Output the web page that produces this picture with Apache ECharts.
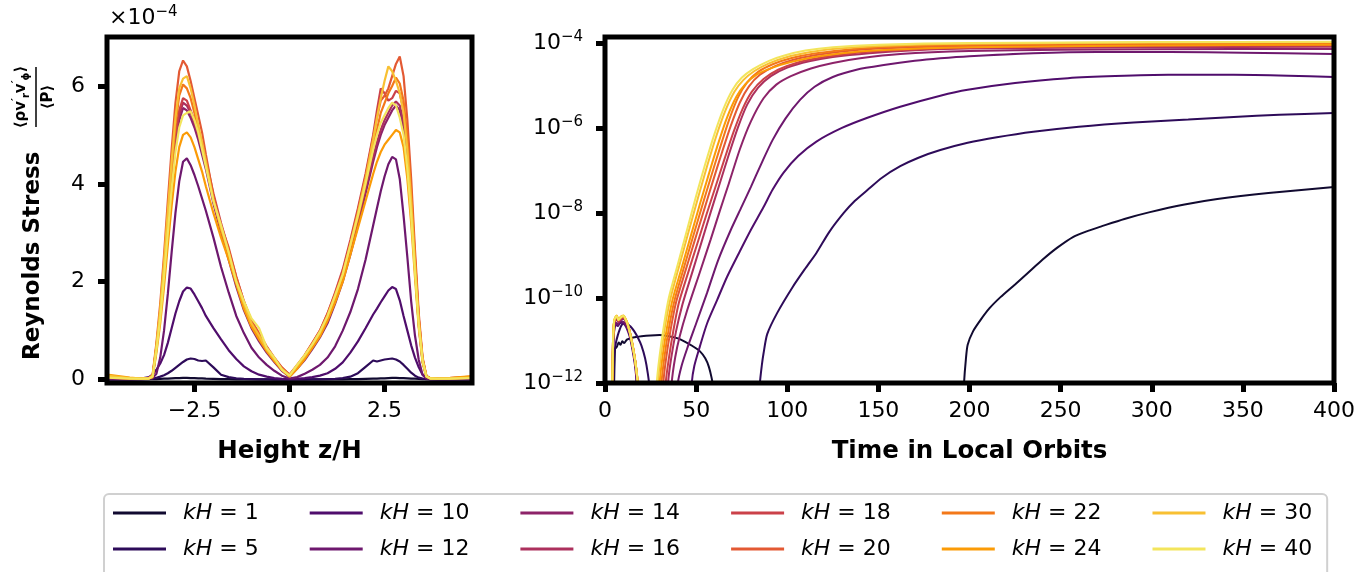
<!DOCTYPE html>
<html>
<head>
<meta charset="utf-8">
<script src="https://cdn.jsdelivr.net/npm/echarts@6.0.0/dist/echarts.min.js"></script>
<style>
  html, body { margin: 0; padding: 0; background: #ffffff; }
  #chart { width: 1372px; height: 572px; }
</style>
</head>
<body>
<div id="chart"></div>
<script>
// Wavenumbers of the runs and their line colours (inferno-like ramp)
const kHValues = [1, 5, 10, 12, 14, 16, 18, 20, 22, 24, 30, 40];
const lineColors = ['#110a30', '#2d0b59', '#4f0d6c', '#6e186e', '#8d2369', '#ac305d',
                    '#cb4149', '#e35933', '#f37819', '#fb9b06', '#f8c032', '#f3e55c'];

// Vertical grid z/H for the stress profiles
const heightGrid = [-4.8, -4.2, -3.9, -3.7, -3.6, -3.5, -3.4, -3.3, -3.2, -3.1, -3.0, -2.9, -2.8, -2.7, -2.6,
  -2.5, -2.4, -2.3, -2.2, -2.0, -1.8, -1.6, -1.4, -1.2, -1.0, -0.8, -0.6, -0.4, -0.2, 0,
  0.2, 0.4, 0.6, 0.8, 1.0, 1.2, 1.4, 1.6, 1.8, 2.0, 2.2, 2.3, 2.4, 2.5, 2.6, 2.7, 2.8, 2.9,
  3.0, 3.1, 3.2, 3.3, 3.4, 3.5, 3.6, 3.7, 3.9, 4.2, 4.8];

// Normalised Reynolds stress profiles, in units of 1e-4
const profileKH1 = [0.01, 0.01, 0.01, 0.01, 0.01, 0.01, 0.015, 0.02, 0.02, 0.025, 0.03, 0.03, 0.035, 0.035, 0.03,
  0.03, 0.025, 0.025, 0.02, 0.015, 0.01, 0.01, 0.005, 0.005, 0.005, 0.005, 0.005, 0.005, 0.005, 0.005,
  0.005, 0.005, 0.005, 0.005, 0.005, 0.005, 0.005, 0.01, 0.01, 0.015, 0.02, 0.02, 0.025, 0.025, 0.03, 0.035, 0.035, 0.03,
  0.03, 0.025, 0.02, 0.02, 0.015, 0.01, 0.01, 0.01, 0.01, 0.01, 0.01];
const profileKH5 = [0, 0, 0.005, 0.01, 0.02, 0.035, 0.06, 0.09, 0.13, 0.18, 0.24, 0.3, 0.36, 0.41, 0.43,
  0.42, 0.39, 0.38, 0.39, 0.25, 0.1, 0.05, 0.025, 0.015, 0.01, 0.005, 0.005, 0, 0, 0,
  0, 0, 0.005, 0.005, 0.01, 0.015, 0.03, 0.06, 0.13, 0.26, 0.39, 0.37, 0.39, 0.41, 0.42, 0.43, 0.41, 0.37,
  0.3, 0.22, 0.14, 0.08, 0.04, 0.02, 0.01, 0.005, 0, 0, 0];
const profileKH10 = [0.01, 0.01, 0.02, 0.05, 0.1, 0.2, 0.33, 0.5, 0.75, 1.05, 1.35, 1.6, 1.8, 1.88, 1.86,
  1.74, 1.6, 1.46, 1.3, 1.05, 0.82, 0.6, 0.42, 0.27, 0.17, 0.1, 0.06, 0.03, 0.015, 0.01,
  0.015, 0.03, 0.05, 0.08, 0.13, 0.22, 0.35, 0.55, 0.78, 1.05, 1.33, 1.45, 1.58, 1.7, 1.82, 1.89, 1.85, 1.62,
  1.3, 1.0, 0.7, 0.45, 0.25, 0.1, 0.03, 0.01, 0.01, 0.01, 0.01];
const profileKH12 = [0.02, 0.01, 0.01, 0.02, 0.03, 0.12, 0.45, 1.0, 1.75, 2.6, 3.4, 4.05, 4.45, 4.52, 4.38,
  4.18, 3.95, 3.7, 3.45, 2.9, 2.3, 1.78, 1.3, 0.95, 0.65, 0.45, 0.3, 0.18, 0.08, 0.02,
  0.05, 0.12, 0.2, 0.3, 0.45, 0.68, 1.0, 1.38, 1.85, 2.45, 3.15, 3.5, 3.85, 4.15, 4.4, 4.55, 4.5, 4.1,
  3.35, 2.5, 1.6, 0.9, 0.4, 0.1, 0.02, 0.01, 0.01, 0.01, 0.02];
const profileKH14 = [0.03, 0.02, 0.02, 0.02, 0.06, 0.62, 1.3, 2.15, 3.1, 4.0, 4.8, 5.3, 5.55, 5.5, 5.35,
  5.15, 4.9, 4.6, 4.3, 3.6, 3.0, 2.45, 1.9, 1.42, 1.05, 0.78, 0.55, 0.36, 0.18, 0.06,
  0.22, 0.4, 0.62, 0.86, 1.15, 1.55, 2.0, 2.55, 3.15, 3.8, 4.45, 4.75, 5.0, 5.2, 5.35, 5.5, 5.6, 5.5,
  5.15, 4.45, 3.45, 2.25, 1.1, 0.36, 0.06, 0.02, 0.02, 0.02, 0.03];
const profileKH16 = [0.04, 0.02, 0.02, 0.02, 0.06, 0.66, 1.35, 2.25, 3.2, 4.1, 4.9, 5.4, 5.66, 5.6, 5.45,
  5.25, 5.0, 4.75, 4.45, 3.7, 3.1, 2.55, 2.0, 1.5, 1.12, 0.85, 0.6, 0.4, 0.2, 0.07,
  0.25, 0.45, 0.68, 0.92, 1.25, 1.65, 2.1, 2.65, 3.25, 3.9, 4.55, 4.85, 5.1, 5.3, 5.45, 5.6, 5.68, 5.6,
  5.25, 4.55, 3.55, 2.3, 1.15, 0.38, 0.06, 0.02, 0.02, 0.02, 0.04];
const profileKH18 = [0.05, 0.02, 0.02, 0.02, 0.07, 0.68, 1.4, 2.3, 3.3, 4.2, 5.0, 5.5, 5.75, 5.7, 5.5,
  5.3, 5.05, 4.8, 4.5, 3.8, 3.2, 2.65, 2.1, 1.6, 1.2, 0.92, 0.66, 0.44, 0.24, 0.1,
  0.28, 0.5, 0.74, 1.0, 1.35, 1.78, 2.25, 2.85, 3.5, 4.2, 5.0, 5.5, 5.95, 5.85, 5.7, 5.75, 5.9, 5.85,
  5.5, 4.8, 3.75, 2.45, 1.25, 0.42, 0.07, 0.03, 0.02, 0.03, 0.05];
const profileKH20 = [0.06, 0.03, 0.02, 0.03, 0.1, 0.75, 1.55, 2.55, 3.65, 4.7, 5.65, 6.3, 6.52, 6.4, 6.1,
  5.75, 5.4, 5.05, 4.6, 3.75, 3.15, 2.7, 2.1, 1.6, 1.2, 0.95, 0.68, 0.45, 0.25, 0.1,
  0.3, 0.5, 0.75, 1.0, 1.35, 1.75, 2.2, 2.8, 3.45, 4.15, 4.95, 5.35, 5.7, 5.8, 5.95, 6.2, 6.45, 6.6,
  6.2, 5.3, 4.1, 2.65, 1.35, 0.45, 0.08, 0.03, 0.02, 0.03, 0.06];
const profileKH22 = [0.05, 0.02, 0.02, 0.02, 0.07, 0.68, 1.42, 2.35, 3.35, 4.3, 5.2, 5.8, 6.03, 5.95, 5.75,
  5.45, 5.1, 4.8, 4.45, 3.7, 3.05, 2.55, 2.05, 1.5, 1.1, 0.85, 0.6, 0.4, 0.2, 0.07,
  0.25, 0.45, 0.68, 0.92, 1.25, 1.65, 2.1, 2.7, 3.3, 4.0, 4.75, 5.1, 5.45, 5.65, 5.85, 6.0, 6.17, 6.05,
  5.7, 4.95, 3.85, 2.5, 1.25, 0.42, 0.07, 0.03, 0.02, 0.02, 0.05];
const profileKH24 = [0.1, 0.04, 0.02, 0.02, 0.05, 0.55, 1.15, 1.9, 2.75, 3.55, 4.25, 4.75, 5.0, 5.05, 4.95,
  4.75, 4.5, 4.25, 3.95, 3.4, 2.9, 2.45, 1.95, 1.45, 1.08, 0.82, 0.58, 0.38, 0.2, 0.06,
  0.22, 0.42, 0.65, 0.88, 1.2, 1.58, 2.0, 2.55, 3.1, 3.65, 4.2, 4.45, 4.65, 4.8, 4.9, 5.0, 5.1, 5.05,
  4.75, 4.1, 3.2, 2.1, 1.05, 0.35, 0.06, 0.02, 0.02, 0.03, 0.07];
const profileKH30 = [0.08, 0.03, 0.02, 0.03, 0.08, 0.7, 1.45, 2.4, 3.45, 4.45, 5.35, 5.95, 6.15, 6.2, 5.95,
  5.6, 5.2, 4.85, 4.45, 3.65, 3.1, 2.6, 2.0, 1.55, 1.15, 0.9, 0.62, 0.42, 0.22, 0.08,
  0.28, 0.48, 0.72, 0.95, 1.3, 1.7, 2.15, 2.75, 3.4, 4.1, 4.9, 5.35, 5.75, 6.1, 6.4, 6.3, 6.1, 5.85,
  5.45, 4.7, 3.65, 2.35, 1.2, 0.4, 0.07, 0.03, 0.02, 0.02, 0.04];
const profileKH40 = [0.04, 0.02, 0.02, 0.02, 0.06, 0.6, 1.25, 2.1, 3.0, 3.9, 4.65, 5.15, 5.4, 5.45, 5.48,
  5.3, 5.05, 4.7, 4.35, 3.65, 3.15, 2.6, 2.0, 1.6, 1.25, 1.05, 0.65, 0.45, 0.2, 0.08,
  0.3, 0.5, 0.72, 0.98, 1.3, 1.72, 2.15, 2.75, 3.35, 4.0, 4.7, 5.0, 5.25, 5.4, 5.55, 5.66, 5.6, 5.35,
  5.0, 4.3, 3.35, 2.2, 1.1, 0.38, 0.06, 0.02, 0.02, 0.02, 0.03];

// Volume-averaged stress history: [time in local orbits, log10 of stress]
// (values below 1e-12 fall outside the plotted window)
const historyKH1 = [[4, -13], [5, -12], [5.5, -11.2], [6.5, -11.15], [7.5, -11.05], [8.5, -11.1], [9.5, -11.02],
  [10.5, -11.06], [12, -10.98], [14, -10.95], [17, -10.92], [20, -10.9], [25, -10.88], [30, -10.87], [35, -10.9],
  [40, -10.95], [44, -11.03], [48, -11.13], [52, -11.25], [55, -11.42], [57, -11.62], [58.5, -11.88], [59.3, -12.1], [60, -13],
  [196, -13], [197, -12], [198, -11.45], [199, -11.1], [202, -10.78], [206, -10.52], [211, -10.24], [217, -9.98],
  [225, -9.68], [232, -9.41], [240, -9.1], [248, -8.82], [257, -8.56], [265, -8.42], [272, -8.32], [285, -8.14],
  [299, -7.98], [318, -7.8], [336, -7.67], [364, -7.53], [400, -7.39]];
const historyKH5 = [[4, -13], [4.8, -12], [5.2, -11.3], [6, -11.05], [7, -10.88], [8, -10.75], [9, -10.65], [10, -10.6],
  [11, -10.58], [12, -10.6], [14, -10.67], [16, -10.78], [18, -10.93], [20, -11.12], [22, -11.42], [23.5, -11.78],
  [24.5, -12.15], [25.2, -13],
  [84, -13], [85, -12], [86, -11.6], [87, -11.3], [89, -10.85], [94.5, -10.35], [103, -9.74], [110, -9.3], [116, -8.94],
  [123, -8.45], [131, -8.0], [137, -7.72], [144, -7.46], [152, -7.17], [162, -6.9], [172, -6.7], [184, -6.52],
  [199, -6.35], [215, -6.22], [235, -6.09], [260, -5.97], [290, -5.87], [320, -5.8], [345, -5.74], [370, -5.69], [400, -5.65]];
const historyKH10 = [[3.5, -13], [4.2, -12], [4.6, -11.0], [5.2, -10.72], [6, -10.63], [7, -10.66], [8, -10.6], [9, -10.58],
  [10, -10.6], [11, -10.64], [12, -10.72], [13.5, -10.9], [15, -11.2], [16.5, -11.6], [17.3, -12], [18, -13],
  [46.5, -13], [47.6, -12], [49, -11.6], [52, -11.15], [56, -10.6], [61.5, -10.05], [67, -9.5], [74, -8.9], [80, -8.4],
  [87, -7.86], [92, -7.45], [98, -7.05], [106, -6.66], [116, -6.32], [130, -6.0], [144, -5.76], [162, -5.5], [184, -5.24],
  [199, -5.1], [225, -4.94], [254, -4.83], [280, -4.78], [309, -4.75], [345, -4.75], [375, -4.77], [400, -4.8]];
const historyKH12 = [[3.5, -13], [4.2, -12], [4.6, -11.0], [5.2, -10.68], [6, -10.58], [7, -10.63], [8, -10.56], [9, -10.55],
  [10, -10.56], [11, -10.6], [12, -10.68], [13.5, -10.85], [15, -11.15], [16.7, -11.6], [17.5, -12], [18.2, -13],
  [39, -13], [40, -12], [42, -11.6], [45, -11.2], [50, -10.6], [56, -9.88], [62, -9.12], [69, -8.4], [75, -7.85],
  [80, -7.39], [86, -6.82], [92, -6.28], [99, -5.78], [107, -5.34], [115, -5.03], [125, -4.8], [138, -4.63],
  [153, -4.52], [170, -4.42], [184, -4.36], [200, -4.31], [235, -4.24], [270, -4.21], [310, -4.21], [350, -4.23], [400, -4.26]];
const historyKH14 = [[3.5, -13], [4.1, -12], [4.5, -11.0], [5.1, -10.62], [5.9, -10.52], [6.6, -10.5], [7.4, -10.58],
  [8.3, -10.53], [9.3, -10.5], [10.3, -10.49], [11.3, -10.55], [12.3, -10.64], [13.6, -10.83], [15, -11.12],
  [16.6, -11.52], [17.7, -12], [18.4, -13],
  [35.6, -13], [36.6, -12], [38.5, -11.4], [41, -10.9], [45, -10.3], [52, -9.4], [58, -8.62], [63, -7.95], [68, -7.3],
  [74, -6.5], [80, -5.85], [87, -5.3], [94, -4.98], [102, -4.78], [113, -4.6], [125, -4.47], [140, -4.36],
  [162, -4.26], [200, -4.19], [250, -4.16], [300, -4.15], [400, -4.14]];
const historyKH16 = [[3.5, -13], [4.1, -12], [4.5, -11.0], [5.1, -10.6], [5.9, -10.5], [6.6, -10.47], [7.4, -10.56],
  [8.3, -10.51], [9.3, -10.48], [10.3, -10.47], [11.3, -10.53], [12.3, -10.62], [13.6, -10.8], [15, -11.1],
  [16.6, -11.5], [17.8, -12], [18.5, -13],
  [33.6, -13], [34.6, -12], [36.3, -11.42], [39, -10.78], [42.5, -10.15], [48, -9.38], [53, -8.68], [58, -7.98],
  [63, -7.3], [68, -6.62], [73, -5.98], [78, -5.45], [84, -5.05], [91, -4.78], [100, -4.58], [112, -4.43],
  [125, -4.33], [145, -4.24], [170, -4.17], [200, -4.13], [300, -4.1], [400, -4.09]];
const historyKH18 = [[3.5, -13], [4.0, -12], [4.4, -11.0], [5.0, -10.58], [5.8, -10.48], [6.5, -10.45], [7.3, -10.54],
  [8.2, -10.5], [9.2, -10.46], [10.2, -10.45], [11.2, -10.52], [12.2, -10.6], [13.5, -10.78], [15, -11.08],
  [16.6, -11.48], [17.9, -12], [18.6, -13],
  [32.3, -13], [33.3, -12], [35, -11.43], [37.5, -10.77], [40.5, -10.12], [45.5, -9.42], [50.5, -8.74], [55.5, -8.06],
  [60.5, -7.4], [65.5, -6.74], [70.5, -6.1], [75.5, -5.55], [80.5, -5.15], [87, -4.85], [95, -4.63], [105, -4.47],
  [118, -4.35], [133, -4.26], [150, -4.19], [200, -4.11], [300, -4.07], [400, -4.06]];
const historyKH20 = [[3.5, -13], [4.0, -12], [4.4, -11.0], [5.0, -10.56], [5.8, -10.47], [6.5, -10.44], [7.3, -10.53],
  [8.2, -10.49], [9.2, -10.45], [10.2, -10.44], [11.2, -10.51], [12.2, -10.6], [13.5, -10.79], [15, -11.09],
  [16.6, -11.5], [17.9, -12], [18.6, -13],
  [31, -13], [32, -12], [33.5, -11.43], [36, -10.75], [39, -10.1], [44, -9.38], [49, -8.68], [54, -7.98], [59, -7.28],
  [64, -6.6], [69, -5.95], [74, -5.4], [79, -5.02], [85, -4.75], [93, -4.55], [103, -4.4], [115, -4.29], [130, -4.2],
  [150, -4.13], [200, -4.07], [300, -4.03], [400, -4.02]];
const historyKH22 = [[3.5, -13], [4.0, -12], [4.4, -11.0], [5.0, -10.55], [5.8, -10.46], [6.5, -10.43], [7.3, -10.52],
  [8.2, -10.48], [9.2, -10.44], [10.2, -10.43], [11.2, -10.5], [12.2, -10.59], [13.5, -10.78], [15, -11.08],
  [16.6, -11.49], [17.9, -12], [18.6, -13],
  [30, -13], [31, -12], [32.5, -11.42], [35, -10.72], [38, -10.08], [43, -9.33], [48, -8.6], [53, -7.88], [58, -7.17],
  [63, -6.48], [68, -5.82], [73, -5.28], [78, -4.93], [84, -4.68], [92, -4.5], [102, -4.36], [115, -4.25],
  [130, -4.17], [150, -4.1], [200, -4.04], [300, -4.01], [400, -4.0]];
const historyKH24 = [[3.5, -13], [4.0, -12], [4.4, -11.0], [5.0, -10.55], [5.8, -10.45], [6.5, -10.42], [7.3, -10.51],
  [8.2, -10.47], [9.2, -10.43], [10.2, -10.42], [11.2, -10.49], [12.2, -10.58], [13.5, -10.77], [15, -11.07],
  [16.6, -11.48], [18.0, -12], [18.7, -13],
  [29, -13], [30, -12], [31.5, -11.4], [34, -10.7], [37, -10.05], [42, -9.3], [47, -8.55], [52, -7.8], [57, -7.08],
  [62, -6.38], [67, -5.75], [72, -5.27], [77, -4.97], [83, -4.75], [92, -4.58], [102, -4.45], [115, -4.33],
  [130, -4.24], [150, -4.17], [200, -4.1], [300, -4.06], [400, -4.04]];
const historyKH30 = [[3.5, -13], [4.0, -12], [4.4, -11.0], [5.0, -10.54], [5.8, -10.44], [6.5, -10.41], [7.3, -10.5],
  [8.2, -10.46], [9.2, -10.42], [10.2, -10.41], [11.2, -10.48], [12.2, -10.58], [13.5, -10.77], [15, -11.07],
  [16.6, -11.48], [18.0, -12], [18.7, -13],
  [28, -13], [29, -12], [30.5, -11.4], [33, -10.65], [36, -10.0], [41, -9.2], [46, -8.42], [51, -7.65], [56, -6.9],
  [61, -6.2], [66, -5.6], [71, -5.15], [76, -4.87], [82, -4.66], [90, -4.48], [100, -4.33], [112, -4.22],
  [125, -4.14], [150, -4.07], [200, -4.02], [300, -3.99], [400, -3.98]];
const historyKH40 = [[3.5, -13], [4.0, -12], [4.4, -11.0], [5.0, -10.55], [5.8, -10.45], [6.5, -10.43], [7.3, -10.52],
  [8.2, -10.48], [9.2, -10.44], [10.2, -10.42], [11.2, -10.5], [12.2, -10.6], [13.5, -10.8], [15, -11.1],
  [16.6, -11.5], [17.9, -12], [18.6, -13],
  [27.5, -13], [28.4, -12], [30, -11.35], [32.5, -10.6], [35, -10.0], [40, -9.2], [45, -8.4], [50, -7.6], [55, -6.85],
  [60, -6.15], [65, -5.55], [70, -5.1], [75, -4.82], [81, -4.62], [90, -4.42], [98, -4.3], [110, -4.18],
  [125, -4.1], [150, -4.04], [200, -4.0], [300, -3.98], [400, -3.97]];

// Axis ticks
const heightTicks = [-2.5, 0, 2.5];
const stressTicks = [0, 2, 4, 6];
const timeTicks = [0, 50, 100, 150, 200, 250, 300, 350, 400];
const logStressTicks = [-12, -10, -8, -6, -4];

const profiles = [profileKH1, profileKH5, profileKH10, profileKH12, profileKH14, profileKH16,
                  profileKH18, profileKH20, profileKH22, profileKH24, profileKH30, profileKH40];
const histories = [historyKH1, historyKH5, historyKH10, historyKH12, historyKH14, historyKH16,
                   historyKH18, historyKH20, historyKH22, historyKH24, historyKH30, historyKH40];

const FONT = 'DejaVu Sans';
const seriesName = k => 'kH = ' + k;

const series = [];
kHValues.forEach((k, i) => {
  const base = {
    name: seriesName(k), type: 'line', showSymbol: false, symbol: 'none',
    animation: false, clip: true, z: 2,
    itemStyle: { color: lineColors[i] }
  };
  series.push(Object.assign({}, base, {
    xAxisIndex: 0, yAxisIndex: 0,
    data: heightGrid.map((z, j) => [z, profiles[i][j]]),
    lineStyle: { width: 2.2, color: lineColors[i] }
  }));
  series.push(Object.assign({}, base, {
    xAxisIndex: 1, yAxisIndex: 1,
    data: histories[i],
    smooth: 0.25,
    lineStyle: { width: 2, color: lineColors[i] }
  }));
});

const hiddenLine = { show: false, onZero: false };
const tickStyle = { show: true, inside: false, length: 9, lineStyle: { color: '#000', width: 5 } };
const labelStyle = { color: '#000', fontSize: 22, fontFamily: FONT };
const titleStyle = { color: '#000', fontSize: 24.5, fontWeight: 'bold', fontFamily: FONT };
const supRich = {
  b: { fontSize: 22, fontFamily: FONT, color: '#000', lineHeight: 26 },
  s: { fontSize: 15, fontFamily: FONT, color: '#000', lineHeight: 14, verticalAlign: 'top' }
};
const minusSign = v => (v < 0 ? '\u2212' : '') + Math.abs(v);

const legendText = {
  fontSize: 22, fontFamily: FONT, color: '#000', lineHeight: 26, padding: [0, 0, 0, 12],
  rich: { i: { fontSize: 22, fontFamily: FONT, fontStyle: 'italic', color: '#000', lineHeight: 26 } }
};
const legendFormatter = name => '{i|kH}' + name.slice(2);
const legendCommon = {
  orient: 'horizontal', icon: 'rect', itemWidth: 53, itemHeight: 3, itemGap: 51,
  selectedMode: false, formatter: legendFormatter, textStyle: legendText
};

const option = {
  backgroundColor: '#ffffff',
  animation: false,
  grid: [
    { left: 107, right: 900, top: 37, bottom: 189, show: true, borderColor: '#000', borderWidth: 5,
      backgroundColor: 'transparent', z: 5 },
    { left: 605, right: 38, top: 37, bottom: 189, show: true, borderColor: '#000', borderWidth: 5,
      backgroundColor: 'transparent', z: 5 }
  ],
  xAxis: [
    {
      gridIndex: 0, type: 'value', min: -4.8, max: 4.8,
      axisLine: hiddenLine, splitLine: { show: false },
      axisTick: Object.assign({ customValues: heightTicks }, tickStyle),
      axisLabel: Object.assign({ customValues: heightTicks, margin: 17,
        formatter: v => (v < 0 ? '\u2212' : '') + Math.abs(v).toFixed(1) }, labelStyle),
      name: 'Height z/H', nameLocation: 'middle', nameGap: 56, nameTextStyle: titleStyle
    },
    {
      gridIndex: 1, type: 'value', min: 0, max: 400,
      axisLine: hiddenLine, splitLine: { show: false },
      axisTick: Object.assign({ customValues: timeTicks }, tickStyle),
      axisLabel: Object.assign({ customValues: timeTicks, margin: 17 }, labelStyle),
      name: 'Time in Local Orbits', nameLocation: 'middle', nameGap: 56, nameTextStyle: titleStyle
    }
  ],
  yAxis: [
    {
      gridIndex: 0, type: 'value', min: -0.07, max: 7.0,
      axisLine: hiddenLine, splitLine: { show: false },
      axisTick: Object.assign({ customValues: stressTicks }, tickStyle),
      axisLabel: Object.assign({ customValues: stressTicks, margin: 22, formatter: v => String(v) }, labelStyle),
      name: '{b|\u00d710}{s|\u22124}', nameLocation: 'end', nameGap: 6,
      nameTextStyle: { align: 'left', verticalAlign: 'bottom', padding: [0, 0, 0, 2], rich: supRich }
    },
    {
      gridIndex: 1, type: 'value', min: -12, max: -3.86,
      axisLine: hiddenLine, splitLine: { show: false },
      axisTick: Object.assign({ customValues: logStressTicks }, tickStyle),
      axisLabel: Object.assign({ customValues: logStressTicks, margin: 22,
        formatter: v => '{b|10}{s|' + minusSign(Math.round(v)) + '}', rich: supRich }, labelStyle)
    }
  ],
  legend: [
    Object.assign({}, legendCommon, {
      data: [1, 10, 14, 18, 22, 30].map(seriesName),
      left: 104, top: 494, padding: [6, 15, 80, 9],
      borderColor: '#d0d0d0', borderWidth: 2, borderRadius: 5
    }),
    Object.assign({}, legendCommon, {
      data: [5, 12, 16, 20, 24, 40].map(seriesName),
      left: 113, top: 536, padding: 0
    })
  ],
  graphic: [
    {
      type: 'group', x: 33, y: 213, rotation: Math.PI / 2,
      children: [
        { type: 'text', x: -147, y: 0,
          style: { text: 'Reynolds Stress', fontSize: 23, fontWeight: 'bold', fontFamily: FONT,
                   fill: '#000', align: 'left', verticalAlign: 'middle' } },
        { type: 'text', x: 116, y: -12,
          style: { text: '{t|\u27e8\u03c1v}{p|\u2032}{d|r}{t|v}{p|\u2032}{d|\u03d5}{t|\u27e9}',
                   align: 'center', verticalAlign: 'middle',
                   rich: {
                     t: { fontSize: 15, fontWeight: 'bold', fontFamily: FONT, fill: '#000', lineHeight: 20 },
                     p: { fontSize: 11, fontWeight: 'bold', fontFamily: FONT, fill: '#000', lineHeight: 20, verticalAlign: 'top' },
                     d: { fontSize: 10, fontWeight: 'bold', fontFamily: FONT, fill: '#000', lineHeight: 20, verticalAlign: 'bottom' }
                   } } },
        { type: 'line', shape: { x1: 86, y1: 3, x2: 146, y2: 3 }, style: { stroke: '#000', lineWidth: 1.5 } },
        { type: 'text', x: 116, y: 15,
          style: { text: '\u27e8P\u27e9', fontSize: 15, fontWeight: 'bold', fontFamily: FONT,
                   fill: '#000', align: 'center', verticalAlign: 'middle' } }
      ]
    }
  ],
  series: series
};

const chart = echarts.init(document.getElementById('chart'), null, { renderer: 'canvas' });
chart.setOption(option);
</script>
</body>
</html>
